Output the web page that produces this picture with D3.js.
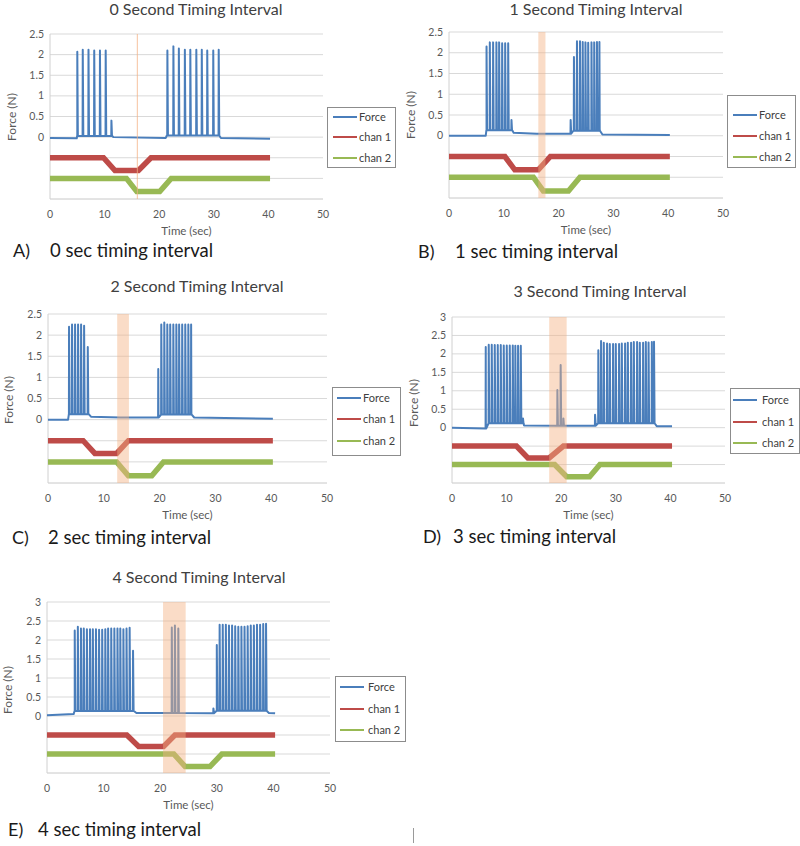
<!DOCTYPE html>
<html>
<head>
<meta charset="utf-8">
<script src="https://cdn.jsdelivr.net/npm/d3@7"></script>
<style>
  body { margin: 0; background: #fff; }
  svg { display: block; font-family: Lato, "Open Sans", sans-serif; }
</style>
</head>
<body>
<svg id="fig" width="800" height="846"></svg>
<script>
// tick labels
var xTicks = [0, 10, 20, 30, 40, 50];
var yTicks25 = [0, 0.5, 1, 1.5, 2, 2.5];
var yTicks3 = [0, 0.5, 1, 1.5, 2, 2.5, 3];
var seriesNames = ["Force", "chan 1", "chan 2"];

var titles = ["0 Second Timing Interval", "1 Second Timing Interval", "2 Second Timing Interval",
              "3 Second Timing Interval", "4 Second Timing Interval"];
var letters = ["A)", "B)", "C)", "D)", "E)"];
var captions = ["0 sec timing interval", "1 sec timing interval", "2 sec timing interval",
                "3 sec timing interval", "4 sec timing interval"];

// force trace: slow baseline [t, N] and spikes [t, peak N]
var forceBaseA = [[0,-0.02],[4.9,-0.03],[5.0,0.03],[11.4,0.03],[11.6,0.0],[21.2,-0.02],[21.4,0.04],[31.0,0.05],[31.3,-0.02],[40.3,-0.04]];
var spikesA = [[5.0,2.07],[6.0,2.12],[7.05,2.12],[8.1,2.1],[9.15,2.1],[10.2,2.1],[11.25,0.4],
               [21.5,2.1],[22.6,2.2],[23.6,2.15],[24.7,2.12],[25.7,2.12],[26.8,2.12],[27.8,2.12],[28.8,2.1],[29.9,2.1],[30.9,2.12]];
var chan1A = [[0,-0.5],[9.8,-0.5],[11.9,-0.81],[16.2,-0.81],[18.5,-0.5],[40.3,-0.5]];
var chan2A = [[0,-1.0],[14.0,-1.0],[15.9,-1.32],[20.1,-1.32],[22.2,-1.0],[40.3,-1.0]];
var bandA = [15.9, 16.1];

var forceBaseB = [[0,0.0],[6.7,0.0],[6.85,0.13],[11.6,0.12],[11.8,0.07],[16,0.05],[22.0,0.05],[22.7,0.12],[27.5,0.15],[28.0,0.03],[40.3,0.02]];
var spikesB = [[6.85,2.15],[7.45,2.25],[8.05,2.25],[8.65,2.25],[9.15,2.25],[9.7,2.23],[10.25,2.23],[10.8,2.23],[11.4,0.38],
               [22.2,0.38],[22.8,1.9],[23.35,2.28],[23.9,2.28],[24.4,2.26],[24.9,2.25],[25.4,2.24],[26.0,2.25],[26.5,2.25],[27.0,2.26],[27.45,2.26]];
var chan1B = [[0,-0.5],[10.2,-0.5],[12.0,-0.82],[16.3,-0.82],[18.5,-0.5],[40.3,-0.5]];
var chan2B = [[0,-1.0],[15.4,-1.0],[17.2,-1.33],[21.8,-1.33],[23.9,-1.0],[40.3,-1.0]];
var bandB = [16.3, 17.6];

var forceBaseC = [[0,0.0],[3.6,0.0],[3.75,0.13],[7.3,0.13],[7.7,0.07],[13,0.05],[19.5,0.05],[19.8,0.12],[25.7,0.14],[26.2,0.05],[40.3,0.02]];
var spikesC = [[3.77,2.2],[4.31,2.25],[4.85,2.25],[5.39,2.25],[5.93,2.25],[6.47,2.22],[7.13,1.72],
               [19.76,1.2],[20.3,2.25],[20.84,2.3],[21.38,2.25],[21.9,2.25],[22.46,2.25],[23.0,2.25],[23.5,2.25],[24.05,2.25],[24.6,2.25],[25.15,2.25],[25.65,2.25]];
var chan1C = [[0,-0.5],[6.3,-0.5],[8.4,-0.8],[12.3,-0.8],[14.4,-0.5],[40.3,-0.5]];
var chan2C = [[0,-1.0],[12.3,-1.0],[14.4,-1.33],[18.6,-1.33],[20.7,-1.0],[40.3,-1.0]];
var bandC = [12.4, 14.5];

var forceBaseD = [[0,0.0],[6.0,-0.02],[6.2,0.12],[12.7,0.12],[13.2,0.06],[19,0.05],[26.0,0.05],[26.3,0.12],[37.1,0.12],[37.5,0.04],[40.3,0.04]];
var spikesD = [[6.18,2.19],[6.73,2.25],[7.28,2.25],[7.83,2.24],[8.38,2.24],[8.93,2.24],[9.48,2.23],[10.03,2.23],[10.58,2.23],[11.13,2.23],[11.6,2.22],[12.1,2.22],[12.6,2.22],[13.0,0.25],
               [19.3,1.02],[19.9,1.7],[20.4,0.25],
               [26.2,0.35],[26.8,2.1],[27.3,2.35],[27.8,2.3],[28.4,2.28],[28.9,2.27],[29.5,2.27],[30.0,2.27],[30.6,2.27],[31.1,2.28],[31.7,2.28],
               [32.2,2.3],[32.8,2.3],[33.3,2.32],[33.9,2.32],[34.4,2.3],[35.0,2.3],[35.5,2.32],[36.0,2.31],[36.6,2.32],[37.0,2.33]];
var chan1D = [[0,-0.5],[11.8,-0.5],[13.9,-0.82],[17.8,-0.82],[20.4,-0.5],[40.3,-0.5]];
var chan2D = [[0,-1.0],[18.8,-1.0],[21.0,-1.33],[25.2,-1.33],[27.1,-1.0],[40.3,-1.0]];
var bandD = [17.8, 21.0];

var forceBaseE = [[0,0.02],[4.7,0.05],[4.9,0.13],[15.3,0.14],[15.8,0.08],[29.0,0.07],[29.5,0.1],[30.0,0.14],[38.8,0.15],[39.2,0.08],[40.3,0.07]];
var spikesE = [[4.9,2.25],[5.45,2.35],[6.0,2.3],[6.5,2.3],[7.05,2.28],[7.6,2.28],[8.1,2.28],[8.65,2.28],[9.2,2.27],[9.75,2.27],[10.3,2.28],[10.8,2.3],
               [11.35,2.3],[11.9,2.3],[12.45,2.3],[12.95,2.3],[13.5,2.28],[14.05,2.3],[14.6,2.32],[15.2,1.72],
               [22.05,2.33],[22.6,2.38],[23.2,2.3],
               [29.4,0.2],[30.0,1.87],[30.5,2.4],[31.05,2.4],[31.6,2.4],[32.15,2.38],[32.7,2.38],[33.25,2.36],[33.8,2.35],[34.35,2.35],
               [34.9,2.35],[35.45,2.36],[36.0,2.38],[36.55,2.38],[37.1,2.4],[37.65,2.4],[38.2,2.42],[38.7,2.43]];
var chan1E = [[0,-0.5],[14.1,-0.5],[16.2,-0.8],[20.6,-0.8],[22.6,-0.5],[40.3,-0.5]];
var chan2E = [[0,-1.0],[22.4,-1.0],[24.4,-1.33],[28.8,-1.33],[30.9,-1.0],[40.3,-1.0]];
var bandE = [20.5, 24.5];

var colors = ["#4a7ebb", "#be4b48", "#98b954"];

// panel placement on the page
var layout = [
  {left: 50,  right: 323, top: 34,  bottom: 199, ymax: 2.5, yt: yTicks25, titleX: 196, titleY: 15,
   capX: 13, capTextX: 50, capY: 257, ylabX: 12, ylabY: 117,
   leg: {x: 327, y: 107, w: 68, h: 60, rows: [117, 137, 158], lx: 333, tx: 359}},
  {left: 449, right: 723, top: 32,  bottom: 198, ymax: 2.5, yt: yTicks25, titleX: 596, titleY: 15,
   capX: 418, capTextX: 455, capY: 258, ylabX: 411, ylabY: 115,
   leg: {x: 727, y: 95, w: 68, h: 72, rows: [115, 136, 157], lx: 733, tx: 759}},
  {left: 48,  right: 327, top: 314, bottom: 483, ymax: 2.5, yt: yTicks25, titleX: 197, titleY: 292,
   capX: 12, capTextX: 48, capY: 544, ylabX: 9, ylabY: 400,
   leg: {x: 332, y: 387, w: 68, h: 68, rows: [398, 419, 441], lx: 337, tx: 363}},
  {left: 452, right: 725, top: 317, bottom: 483, ymax: 3, yt: yTicks3, titleX: 600, titleY: 297,
   capX: 423, capTextX: 453, capY: 543, ylabX: 414, ylabY: 403,
   leg: {x: 730, y: 388, w: 69, h: 65, rows: [400, 422, 443], lx: 733, tx: 762}},
  {left: 47,  right: 330, top: 602, bottom: 773, ymax: 3, yt: yTicks3, titleX: 199, titleY: 583,
   capX: 8, capTextX: 38, capY: 836, ylabX: 8, ylabY: 690,
   leg: {x: 335, y: 676, w: 70, h: 65, rows: [687, 709, 730], lx: 340, tx: 368}}
];

var panelData = [
  [forceBaseA, spikesA, chan1A, chan2A, bandA],
  [forceBaseB, spikesB, chan1B, chan2B, bandB],
  [forceBaseC, spikesC, chan1C, chan2C, bandC],
  [forceBaseD, spikesD, chan1D, chan2D, bandD],
  [forceBaseE, spikesE, chan1E, chan2E, bandE]
];

// merge spikes into the slow baseline
function forcePoints(base, spikes) {
  var bis = d3.bisector(function(d){ return d[0]; }).right;
  var pts = base.map(function(d){ return d.slice(); });
  spikes.forEach(function(s){
    var b = base[Math.max(0, bis(base, s[0]) - 1)][1];
    pts.push([s[0] - 0.03, b], [s[0], s[1]], [s[0] + 0.1, b]);
  });
  return pts.sort(function(a, b){ return a[0] - b[0]; });
}

var svg = d3.select("#fig");

function drawPanel(i) {
  var L = layout[i], D = panelData[i];
  var g = svg.append("g");
  var x = d3.scaleLinear().domain([0, 50]).range([L.left, L.right]);
  var y = d3.scaleLinear().domain([-1.5, L.ymax]).range([L.bottom, L.top]);

  // gridlines every 0.5
  g.selectAll(".grid")
    .data(d3.range(-1.0, L.ymax + 0.01, 0.5))
    .enter().append("line")
    .attr("x1", L.left).attr("x2", L.right)
    .attr("y1", function(d){ return y(d); }).attr("y2", function(d){ return y(d); })
    .attr("stroke", "#d9d9d9").attr("stroke-width", 1);
  g.append("line").attr("x1", L.left).attr("x2", L.right)
    .attr("y1", y(-1.5)).attr("y2", y(-1.5)).attr("stroke", "#c8c8c8");
  g.append("line").attr("x1", L.left).attr("x2", L.left)
    .attr("y1", y(-1.5)).attr("y2", y(L.ymax)).attr("stroke", "#d0d0d0");

  // tick labels
  g.selectAll(".yt").data(L.yt).enter().append("text")
    .attr("x", L.left - 6).attr("y", function(d){ return y(d) + 3.5; })
    .attr("text-anchor", "end").attr("font-size", 10.5).attr("fill", "#595959")
    .text(function(d){ return d; });
  g.selectAll(".xt").data(xTicks).enter().append("text")
    .attr("x", function(d){ return x(d); }).attr("y", y(-1.5) + 19)
    .attr("text-anchor", "middle").attr("font-size", 10.5).attr("fill", "#595959")
    .text(function(d){ return d; });

  g.append("text").attr("x", (L.left + L.right) / 2).attr("y", y(-1.5) + 36)
    .attr("text-anchor", "middle").attr("font-size", 11.5).attr("fill", "#595959")
    .text("Time (sec)");
  g.append("text")
    .attr("transform", "translate(" + (L.ylabX + 4) + "," + L.ylabY + ") rotate(-90)")
    .attr("text-anchor", "middle").attr("font-size", 12).attr("fill", "#595959")
    .text("Force (N)");

  g.append("text").attr("x", L.titleX).attr("y", L.titleY)
    .attr("text-anchor", "middle").attr("font-size", 16).attr("fill", "#404040")
    .text(titles[i]);

  // traces
  var line = d3.line().x(function(d){ return x(d[0]); }).y(function(d){ return y(d[1]); });
  g.append("path").datum(D[3]).attr("d", line)
    .attr("fill", "none").attr("stroke", colors[2]).attr("stroke-width", 5.5);
  g.append("path").datum(D[2]).attr("d", line)
    .attr("fill", "none").attr("stroke", colors[1]).attr("stroke-width", 5.5);
  g.append("path").datum(forcePoints(D[0], D[1])).attr("d", line)
    .attr("fill", "none").attr("stroke", colors[0]).attr("stroke-width", 2)
    .attr("stroke-linejoin", "round");

  // timing interval band
  var bw = x(D[4][1]) - x(D[4][0]);
  g.append("rect")
    .attr("x", x(D[4][0])).attr("width", Math.max(1, bw))
    .attr("y", y(L.ymax)).attr("height", y(-1.5) - y(L.ymax))
    .attr("fill", "#f4b183").attr("opacity", bw < 2 ? 0.7 : 0.45);

  // legend
  var lg = L.leg;
  g.append("rect").attr("x", lg.x + 0.5).attr("y", lg.y + 0.5).attr("width", lg.w).attr("height", lg.h)
    .attr("fill", "#fff").attr("stroke", "#8c8c8c");
  seriesNames.forEach(function(name, k){
    g.append("line").attr("x1", lg.lx).attr("x2", lg.lx + 24)
      .attr("y1", lg.rows[k]).attr("y2", lg.rows[k])
      .attr("stroke", colors[k]).attr("stroke-width", 2);
    g.append("text").attr("x", lg.tx).attr("y", lg.rows[k] + 4)
      .attr("font-size", 11).attr("fill", "#404040").text(name);
  });

  // caption below the panel
  g.append("text").attr("x", L.capX).attr("y", L.capY)
    .attr("font-size", 18).attr("fill", "#1a1a1a").text(letters[i]);
  g.append("text").attr("x", L.capTextX).attr("y", L.capY)
    .attr("font-size", 18.5).attr("fill", "#1a1a1a").text(captions[i]);
}

for (var i = 0; i < layout.length; i++) drawPanel(i);

// stray mark at the bottom of the page
svg.append("line").attr("x1", 413.5).attr("x2", 413.5).attr("y1", 828).attr("y2", 843)
  .attr("stroke", "#9a9a9a").attr("stroke-width", 1);
</script>
</body>
</html>
